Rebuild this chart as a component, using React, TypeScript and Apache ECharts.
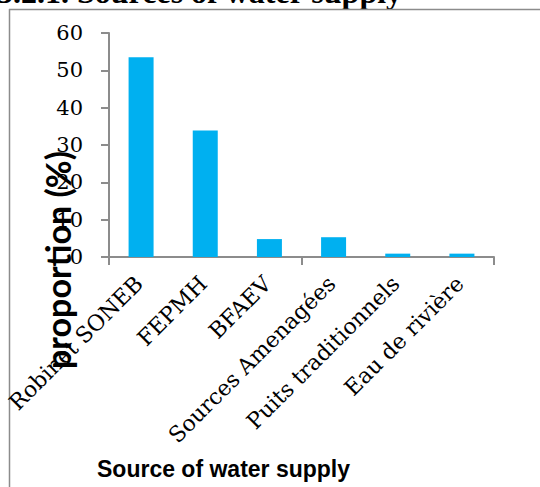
import React, { useEffect, useRef } from "react";
import * as echarts from "echarts";

// Water supply sources and the share of households using each (%)
const categories = [
  "Robinet SONEB",
  "FEPMH",
  "BFAEV",
  "Sources Amenagées",
  "Puits traditionnels",
  "Eau de rivière",
];
const proportions = [53.5, 33.9, 4.8, 5.3, 0.9, 0.9];

const yMin = 0;
const yMax = 60;
const yStep = 10;

const sectionTitle = "3.2.1. Sources of water supply";
const yAxisTitle = "proportion (%)";
const xAxisTitle = "Source of water supply";

const W = 540;
const H = 487;
const AXIS_GREY = "#8c8c8c";
const BAR_BLUE = "#00b0f0";
const SERIF = "'DejaVu Serif', serif";

export default function App() {
  const ref = useRef<HTMLDivElement>(null);

  useEffect(() => {
    if (!ref.current) return;
    const chart = echarts.init(ref.current, undefined, { renderer: "svg" });

    const gridLeft = 109;
    const gridRight = 46;
    const gridTop = 33;
    const gridBottom = 230;
    const labelShift = -2;

    chart.setOption({
      animation: false,
      backgroundColor: "#ffffff",
      grid: [
        { left: gridLeft, right: gridRight, top: gridTop, bottom: gridBottom },
        // companion grid carrying the slanted category labels, nudged sideways
        {
          left: gridLeft + labelShift,
          right: gridRight - labelShift,
          top: gridTop,
          bottom: gridBottom,
        },
      ],
      xAxis: [
        {
          type: "category",
          gridIndex: 0,
          data: categories,
          axisLine: { show: true, lineStyle: { color: AXIS_GREY, width: 2 } },
          axisTick: { show: true, length: 8, lineStyle: { color: AXIS_GREY, width: 2 } },
          axisLabel: { show: false },
        },
        {
          type: "category",
          gridIndex: 1,
          data: categories,
          axisLine: { show: false },
          axisTick: { show: false },
          axisLabel: {
            show: true,
            rotate: 45,
            margin: 23,
            interval: 0,
            color: "#000",
            fontFamily: SERIF,
            fontSize: 22,
          },
        },
      ],
      yAxis: [
        {
          type: "value",
          gridIndex: 0,
          min: yMin,
          max: yMax,
          interval: yStep,
          axisLine: { show: true, lineStyle: { color: AXIS_GREY, width: 2 } },
          axisTick: { show: true, length: 8, lineStyle: { color: AXIS_GREY, width: 2 } },
          splitLine: { show: false },
          axisLabel: {
            margin: 26,
            color: "#000",
            fontFamily: SERIF,
            fontSize: 21,
          },
        },
        {
          type: "value",
          gridIndex: 1,
          min: yMin,
          max: yMax,
          show: false,
        },
      ],
      series: [
        {
          type: "bar",
          xAxisIndex: 0,
          yAxisIndex: 0,
          data: proportions,
          barWidth: 25,
          itemStyle: { color: BAR_BLUE },
        },
      ],
      graphic: [
        {
          type: "text",
          x: -3,
          y: -8,
          style: {
            text: sectionTitle,
            fill: "#000",
            font: "bold 32px 'Liberation Serif', serif",
            textAlign: "left",
            textVerticalAlign: "middle",
          },
        },
        {
          type: "line",
          shape: { x1: 9, y1: 9.5, x2: W, y2: 9.5 },
          style: { stroke: AXIS_GREY, lineWidth: 1.5 },
        },
        {
          type: "line",
          shape: { x1: 9.5, y1: 9, x2: 9.5, y2: H },
          style: { stroke: AXIS_GREY, lineWidth: 1.5 },
        },
        {
          type: "text",
          x: 57,
          y: 260,
          rotation: Math.PI / 2,
          style: {
            text: yAxisTitle,
            fill: "#000",
            font: "bold 34px Lato, sans-serif",
            textAlign: "center",
            textVerticalAlign: "middle",
          },
        },
        {
          type: "text",
          x: 97,
          y: 469,
          style: {
            text: xAxisTitle,
            fill: "#000",
            font: "bold 23px 'Liberation Sans', Arial, sans-serif",
            textAlign: "left",
            textVerticalAlign: "middle",
          },
        },
      ],
    });

    return () => chart.dispose();
  }, []);

  return (
    <div
      ref={ref}
      style={{ position: "fixed", left: 0, top: 0, width: W, height: H }}
    />
  );
}
